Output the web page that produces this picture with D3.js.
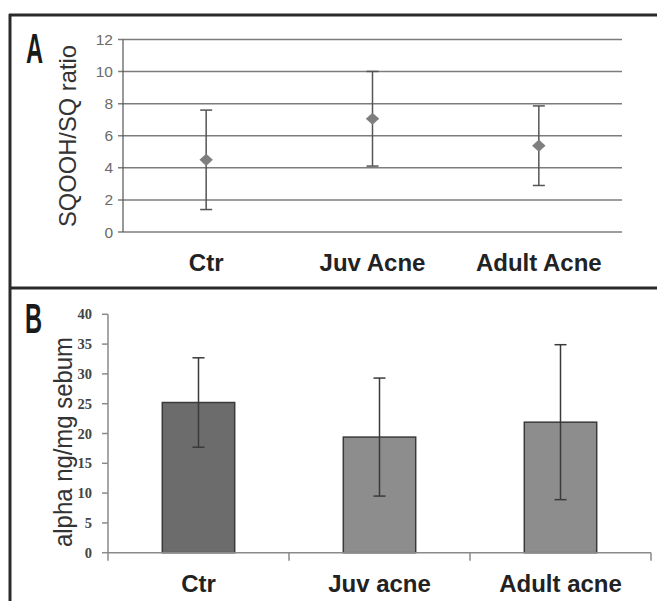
<!DOCTYPE html>
<html>
<head>
<meta charset="utf-8">
<script src="https://cdn.jsdelivr.net/npm/d3@7"></script>
<style>
  body { margin: 0; background: #fff; }
  svg { display: block; }
</style>
</head>
<body>
<svg></svg>
<script>
// panel A: SQOOH/SQ ratio, mean +/- sd
let catsA = ['Ctr', 'Juv Acne', 'Adult Acne'];
let meanA = [4.5, 7.06, 5.38];
let sdA = [3.1, 2.95, 2.48];
let ticksA = [0, 2, 4, 6, 8, 10, 12];

// panel B: alpha ng/mg sebum, mean +/- sd
let catsB = ['Ctr', 'Juv acne', 'Adult acne'];
let meanB = [25.2, 19.4, 21.9];
let sdB = [7.5, 9.9, 13.0];
let ticksB = [0, 5, 10, 15, 20, 25, 30, 35, 40];

let svgWidth = 657,
    svgHeight = 601;

let svg = d3.select('svg')
            .attr('width', svgWidth)
            .attr('height', svgHeight);

svg.append('rect')
   .attr('width', svgWidth)
   .attr('height', svgHeight)
   .attr('fill', '#fff');

// frame lines round the two panels
let frame = svg.append('g')
               .attr('stroke', '#2a2a2a')
               .attr('stroke-width', 3)
               .attr('fill', 'none');
frame.append('line').attr('x1', 9).attr('x2', 657).attr('y1', 15).attr('y2', 15);
frame.append('line').attr('x1', 10).attr('x2', 10).attr('y1', 14).attr('y2', 601);
frame.append('line').attr('x1', 9).attr('x2', 657).attr('y1', 288).attr('y2', 288);

// panel letters (tall condensed)
function panelLetter(txt, x, y) {
  svg.append('text')
     .attr('transform', `translate(${x},${y}) scale(0.55,1)`)
     .attr('font-family', 'Liberation Sans, Arial, sans-serif')
     .attr('font-weight', 'bold')
     .attr('font-size', 43)
     .attr('fill', '#1a1a1a')
     .text(txt);
}
panelLetter('A', 26, 63);
panelLetter('B', 25, 333);

// ---------- panel A ----------
let xA = d3.scaleBand().domain(catsA).range([123, 622]);
let yA = d3.scaleLinear().domain([0, 12]).range([232, 39.5]);

let gA = svg.append('g');

gA.selectAll('.grid')
  .data(ticksA)
  .join('line')
  .attr('x1', 118)
  .attr('x2', 622)
  .attr('y1', d => yA(d))
  .attr('y2', d => yA(d))
  .attr('stroke', '#7c7c7c')
  .attr('stroke-width', 1.5);

gA.append('line')
  .attr('x1', 123).attr('x2', 123)
  .attr('y1', yA(12)).attr('y2', yA(0))
  .attr('stroke', '#555')
  .attr('stroke-width', 1.2);

gA.selectAll('.tickA')
  .data(ticksA)
  .join('text')
  .attr('x', 113)
  .attr('y', d => yA(d) + 5.5)
  .attr('text-anchor', 'end')
  .attr('font-family', 'Liberation Sans, Arial, sans-serif')
  .attr('font-size', 15.5)
  .attr('fill', '#6a6a6a')
  .text(d => d);

gA.append('text')
  .attr('transform', `translate(76,136) rotate(-90)`)
  .attr('text-anchor', 'middle')
  .attr('font-family', 'Liberation Sans, Arial, sans-serif')
  .attr('font-size', 24)
  .attr('fill', '#333')
  .attr('textLength', 182)
  .attr('lengthAdjust', 'spacingAndGlyphs')
  .text('SQOOH/SQ ratio');

// error bars
let errA = gA.selectAll('.errA')
  .data(catsA)
  .join('g')
  .attr('stroke', '#555')
  .attr('stroke-width', 1.5);
errA.append('line')
    .attr('x1', d => xA(d) + xA.bandwidth() / 2)
    .attr('x2', d => xA(d) + xA.bandwidth() / 2)
    .attr('y1', (d, i) => yA(meanA[i] + sdA[i]))
    .attr('y2', (d, i) => yA(meanA[i] - sdA[i]));
errA.append('line')
    .attr('x1', d => xA(d) + xA.bandwidth() / 2 - 6)
    .attr('x2', d => xA(d) + xA.bandwidth() / 2 + 6)
    .attr('y1', (d, i) => yA(meanA[i] + sdA[i]))
    .attr('y2', (d, i) => yA(meanA[i] + sdA[i]));
errA.append('line')
    .attr('x1', d => xA(d) + xA.bandwidth() / 2 - 6)
    .attr('x2', d => xA(d) + xA.bandwidth() / 2 + 6)
    .attr('y1', (d, i) => yA(meanA[i] - sdA[i]))
    .attr('y2', (d, i) => yA(meanA[i] - sdA[i]));

// diamond markers
gA.selectAll('.dia')
  .data(catsA)
  .join('path')
  .attr('d', d3.symbol().type(d3.symbolDiamond2).size(95))
  .attr('transform', (d, i) => `translate(${xA(d) + xA.bandwidth() / 2},${yA(meanA[i])}) scale(1.1,1)`)
  .attr('fill', '#7f7f7f');

gA.selectAll('.catA')
  .data(catsA)
  .join('text')
  .attr('x', d => xA(d) + xA.bandwidth() / 2)
  .attr('y', 271)
  .attr('text-anchor', 'middle')
  .attr('font-family', 'Liberation Sans, Arial, sans-serif')
  .attr('font-weight', 'bold')
  .attr('font-size', 24)
  .attr('fill', '#222')
  .text(d => d);

// ---------- panel B ----------
let xB = d3.scaleBand().domain(catsB).range([108, 651]);
let yB = d3.scaleLinear().domain([0, 40]).range([552.7, 314.3]);
let barW = xB.bandwidth() * 0.4;
let barColors = ['#6c6c6c', '#8d8d8d', '#8d8d8d'];

let gB = svg.append('g');

gB.append('line')
  .attr('x1', 108).attr('x2', 108)
  .attr('y1', yB(40)).attr('y2', yB(0) + 8)
  .attr('stroke', '#8a8a8a')
  .attr('stroke-width', 1.5);

gB.selectAll('.tickmB')
  .data(ticksB)
  .join('line')
  .attr('x1', 102).attr('x2', 108)
  .attr('y1', d => yB(d)).attr('y2', d => yB(d))
  .attr('stroke', '#8a8a8a')
  .attr('stroke-width', 1.5);

gB.selectAll('.tickB')
  .data(ticksB)
  .join('text')
  .attr('x', 92)
  .attr('y', d => yB(d) + 5)
  .attr('text-anchor', 'end')
  .attr('font-family', 'Liberation Serif, Times New Roman, serif')
  .attr('font-weight', 'bold')
  .attr('font-size', 14.5)
  .attr('fill', '#444')
  .text(d => d);

gB.append('text')
  .attr('transform', `translate(72,442) rotate(-90)`)
  .attr('text-anchor', 'middle')
  .attr('font-family', 'Liberation Sans, Arial, sans-serif')
  .attr('font-size', 25)
  .attr('fill', '#333')
  .attr('textLength', 210)
  .attr('lengthAdjust', 'spacingAndGlyphs')
  .text('alpha ng/mg sebum');

gB.selectAll('.bar')
  .data(catsB)
  .join('rect')
  .attr('x', d => xB(d) + (xB.bandwidth() - barW) / 2)
  .attr('y', (d, i) => yB(meanB[i]))
  .attr('width', barW)
  .attr('height', (d, i) => yB(0) - yB(meanB[i]))
  .attr('fill', (d, i) => barColors[i])
  .attr('stroke', '#3a3a3a')
  .attr('stroke-width', 1.5);

// x axis and category ticks
gB.append('line')
  .attr('x1', 108).attr('x2', 651)
  .attr('y1', yB(0)).attr('y2', yB(0))
  .attr('stroke', '#8a8a8a')
  .attr('stroke-width', 1.5);

gB.selectAll('.tickxB')
  .data(catsB)
  .join('line')
  .attr('x1', d => xB(d) + xB.bandwidth())
  .attr('x2', d => xB(d) + xB.bandwidth())
  .attr('y1', yB(0))
  .attr('y2', yB(0) + 8)
  .attr('stroke', '#8a8a8a')
  .attr('stroke-width', 1.5);

let errB = gB.selectAll('.errB')
  .data(catsB)
  .join('g')
  .attr('stroke', '#3a3a3a')
  .attr('stroke-width', 1.5);
errB.append('line')
    .attr('x1', d => xB(d) + xB.bandwidth() / 2)
    .attr('x2', d => xB(d) + xB.bandwidth() / 2)
    .attr('y1', (d, i) => yB(meanB[i] + sdB[i]))
    .attr('y2', (d, i) => yB(meanB[i] - sdB[i]));
errB.append('line')
    .attr('x1', d => xB(d) + xB.bandwidth() / 2 - 6)
    .attr('x2', d => xB(d) + xB.bandwidth() / 2 + 6)
    .attr('y1', (d, i) => yB(meanB[i] + sdB[i]))
    .attr('y2', (d, i) => yB(meanB[i] + sdB[i]));
errB.append('line')
    .attr('x1', d => xB(d) + xB.bandwidth() / 2 - 6)
    .attr('x2', d => xB(d) + xB.bandwidth() / 2 + 6)
    .attr('y1', (d, i) => yB(meanB[i] - sdB[i]))
    .attr('y2', (d, i) => yB(meanB[i] - sdB[i]));

gB.selectAll('.catB')
  .data(catsB)
  .join('text')
  .attr('x', d => xB(d) + xB.bandwidth() / 2)
  .attr('y', 592)
  .attr('text-anchor', 'middle')
  .attr('font-family', 'Liberation Sans, Arial, sans-serif')
  .attr('font-weight', 'bold')
  .attr('font-size', 24)
  .attr('fill', '#222')
  .text(d => d);
</script>
</body>
</html>
